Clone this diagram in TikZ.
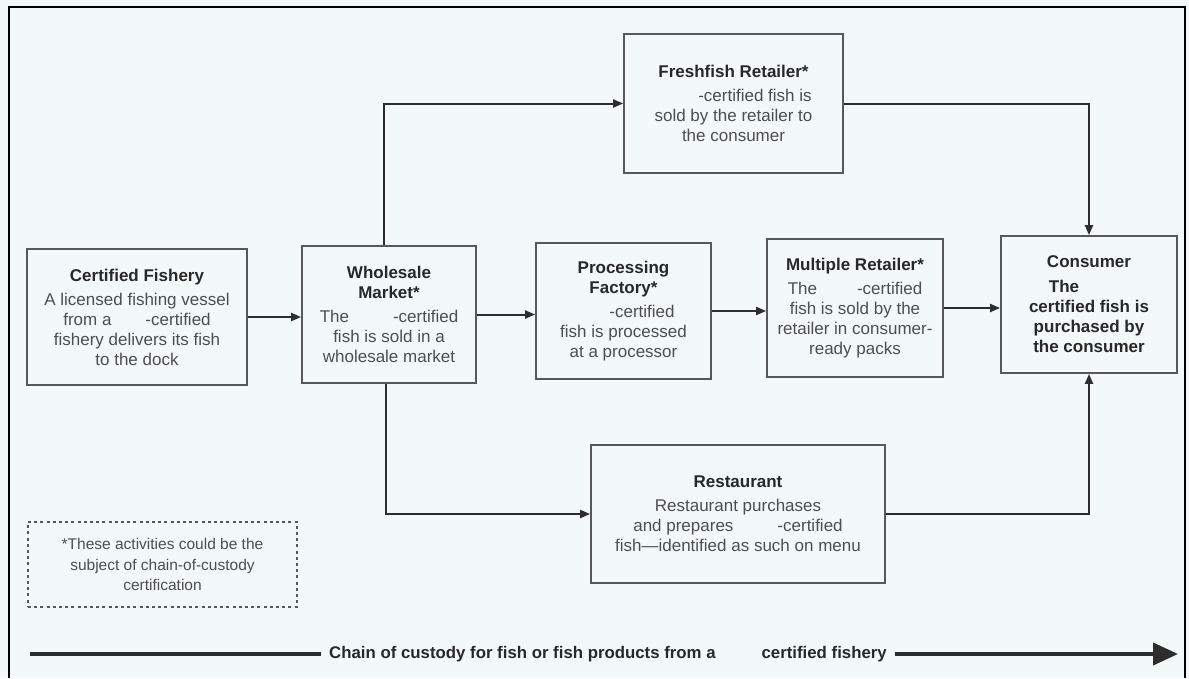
\documentclass[tikz,border=0pt]{standalone}
\usepackage{fontspec}
\setmainfont{Liberation Sans}
\usetikzlibrary{arrows.meta}

\definecolor{paper}{RGB}{243,248,249}
\definecolor{boxline}{RGB}{88,88,88}
\definecolor{wire}{RGB}{45,45,45}
\definecolor{bodytxt}{RGB}{78,78,78}
\definecolor{titletxt}{RGB}{40,40,40}

\newcommand{\ttl}[1]{{\bfseries\color{titletxt}#1}}

\tikzset{
  box/.style={draw=boxline, line width=1.8pt, align=center, inner sep=0pt,
              text=bodytxt, font=\fontsize{17}{20}\selectfont},
  conn/.style={draw=wire, line width=2pt, -{Triangle[length=10pt,width=8pt]}},
  notebox/.style={draw=boxline, line width=1.4pt, dash pattern=on 3pt off 3.2pt,
                  align=center, inner sep=0pt, text=bodytxt,
                  font=\fontsize{15.5}{20.5}\selectfont},
}

\begin{document}
\begin{tikzpicture}[x=1pt,y=-1pt]
  % page and frame
  \fill[paper] (0,0) rectangle (1189,678);
  \useasboundingbox (0,0) rectangle (1189,678);
  \draw[black, line width=2.5pt] (9,678) -- (9,7) -- (1185,7) -- (1185,678);

  % main flow
  \node[box, minimum width=220pt, minimum height=136pt] (fishery) at (137,317)
    {\ttl{Certified Fishery}\\[4pt]
     A licensed fishing vessel\\
     from a\hspace{34pt}-certified\\
     fishery delivers its fish\\
     to the dock};

  \node[box, minimum width=174pt, minimum height=137pt] (wholesale) at (389,314.5)
    {\ttl{Wholesale}\\ \ttl{Market*}\\[4pt]
     The\hspace{44pt}-certified\\
     fish is sold in a\\
     wholesale market};

  \node[box, minimum width=175pt, minimum height=136pt] (processing) at (623.5,311)
    {\ttl{Processing}\\ \ttl{Factory*}\\[4pt]
     \hspace{37pt}-certified\\
     fish is processed\\
     at a processor};

  \node[box, minimum width=176pt, minimum height=138pt] (multiple) at (855,308)
    {\ttl{Multiple Retailer*}\\[4pt]
     The\hspace{40pt}-certified\\
     fish is sold by the\\
     retailer in consumer-\\
     ready packs};

  \node[box, minimum width=176pt, minimum height=137pt] (consumer) at (1089,304.5)
    {\ttl{Consumer}\\[5pt]
     \ttl{The\hspace{50pt}}\\
     \ttl{certified fish is}\\
     \ttl{purchased by}\\
     \ttl{the consumer}};

  \node[box, minimum width=219pt, minimum height=139pt] (fresh) at (733.5,103.5)
    {\ttl{Freshfish Retailer*}\\[4pt]
     \hspace{43pt}-certified fish is\\
     sold by the retailer to\\
     the consumer};

  \node[box, minimum width=294pt, minimum height=138pt] (restaurant) at (738,514)
    {\ttl{Restaurant}\\[4pt]
     Restaurant purchases\\
     and prepares\hspace{44pt}-certified\\
     fish---identified as such on menu};

  % footnote
  \node[notebox, minimum width=269pt, minimum height=85pt] (note) at (162.5,564.5)
    {*These activities could be the\\
     subject of chain-of-custody\\
     certification};

  % connectors
  \draw[conn] (fishery.east) -- (fishery.east -| wholesale.west);
  \draw[conn] (wholesale.east) -- (wholesale.east -| processing.west);
  \draw[conn] (processing.east) -- (processing.east -| multiple.west);
  \draw[conn] (multiple.east) -- (multiple.east -| consumer.west);
  \draw[conn] ([xshift=-5pt]wholesale.north) |- (fresh.west);
  \draw[conn] (fresh.east) -| (consumer.north);
  \draw[conn] ([xshift=-3pt]wholesale.south) |- (restaurant.west);
  \draw[conn] (restaurant.east) -| (consumer.south);

  % chain-of-custody axis
  \node[inner sep=0pt, text=titletxt, font=\bfseries\fontsize{16.8}{19}\selectfont]
    (chain) at (608,654)
    {Chain of custody for fish or fish products from a\hspace{46pt}certified fishery};
  \coordinate (cstart) at (30,654);
  \coordinate (cend) at (1178,654);
  \draw[wire, line width=4pt] (cstart) -- ([xshift=-8pt]chain.west);
  \draw[wire, line width=4pt, -{Triangle[length=25pt,width=22pt]}]
    ([xshift=8pt]chain.east) -- (cend);
\end{tikzpicture}
\end{document}
